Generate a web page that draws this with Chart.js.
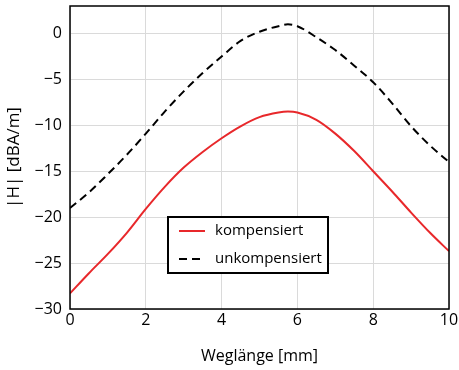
<!DOCTYPE html>
<html>
<head>
<meta charset="utf-8">
<script src="https://cdn.jsdelivr.net/npm/chart.js@4/dist/chart.umd.min.js"></script>
<style>
  html, body { margin: 0; padding: 0; background: #fff; }
  #wrap { width: 459px; height: 370px; position: relative; }
</style>
</head>
<body>
<div id="wrap"><canvas id="c" width="459" height="370"></canvas></div>
<script>
const xValues = [0, 0.5, 1, 1.5, 2, 2.5, 3, 3.5, 4, 4.5, 5, 5.5, 5.75, 6, 6.5, 7, 7.5, 8, 8.5, 9, 9.5, 10];
const kompensiert = [-28.3, -26.1, -24.0, -21.7, -19.1, -16.7, -14.6, -12.9, -11.4, -10.1, -9.1, -8.6, -8.5, -8.6, -9.4, -10.9, -12.8, -15.0, -17.2, -19.5, -21.7, -23.7];
const unkompensiert = [-19.0, -17.3, -15.3, -13.2, -10.9, -8.5, -6.3, -4.3, -2.5, -0.8, 0.2, 0.8, 1.0, 0.8, -0.4, -1.8, -3.5, -5.3, -7.6, -10.1, -12.2, -14.0];
const xTicks = [0, 2, 4, 6, 8, 10];
const yTicks = [-30, -25, -20, -15, -10, -5, 0];
const seriesLabels = ['kompensiert', 'unkompensiert'];
const xTitle = 'Weglänge [mm]';
const yTitle = '|H| [dBA/m]';

const FONT = "'Open Sans', 'Liberation Sans', sans-serif";

function pts(ys) { return xValues.map((x, i) => ({ x: x, y: ys[i] })); }

const framePlugin = {
  id: 'frame',
  afterDraw(chart) {
    const { ctx, chartArea: a } = chart;
    ctx.save();
    ctx.strokeStyle = '#000';
    ctx.lineWidth = 1.5;
    ctx.strokeRect(a.left, a.top, a.right - a.left, a.bottom - a.top);
    ctx.restore();
  }
};

const legendPlugin = {
  id: 'boxLegend',
  afterDraw(chart) {
    const { ctx } = chart;
    const x0 = 168, y0 = 217, w = 160, h = 56;
    ctx.save();
    ctx.fillStyle = '#fff';
    ctx.fillRect(x0, y0, w, h);
    ctx.strokeStyle = '#000';
    ctx.lineWidth = 2;
    ctx.strokeRect(x0, y0, w, h);
    chart.data.datasets.forEach((ds, i) => {
      const yy = y0 + 14 + i * 28;
      ctx.strokeStyle = ds.borderColor;
      ctx.lineWidth = ds.borderWidth;
      ctx.setLineDash(ds.borderDash || []);
      ctx.beginPath();
      ctx.moveTo(x0 + 11, yy);
      ctx.lineTo(x0 + 37, yy);
      ctx.stroke();
      ctx.setLineDash([]);
      ctx.fillStyle = '#000';
      ctx.font = '15px ' + FONT;
      ctx.textBaseline = 'middle';
      ctx.textAlign = 'left';
      ctx.fillText(ds.label, x0 + 47, yy);
    });
    ctx.restore();
  }
};

const minus = v => String(v).replace('-', '\u2212');

new Chart(document.getElementById('c'), {
  type: 'line',
  data: {
    datasets: [
      { label: seriesLabels[0], data: pts(kompensiert), borderColor: '#e8282b', borderWidth: 2, pointRadius: 0, cubicInterpolationMode: 'monotone', fill: false },
      { label: seriesLabels[1], data: pts(unkompensiert), borderColor: '#000000', borderWidth: 2, borderDash: [8, 5], pointRadius: 0, cubicInterpolationMode: 'monotone', fill: false }
    ]
  },
  options: {
    responsive: false,
    animation: false,
    layout: { padding: { top: 6, right: 10, left: 0, bottom: 0 } },
    plugins: { legend: { display: false }, tooltip: { enabled: false } },
    scales: {
      x: {
        type: 'linear', min: 0, max: 10,
        afterBuildTicks: s => { s.ticks = xTicks.map(v => ({ value: v })); },
        afterFit: s => { s.height = 61; s.paddingLeft = 0; s.paddingRight = 0; },
        grid: { color: '#dadada', lineWidth: 1, drawTicks: false },
        border: { display: false },
        ticks: { color: '#000', font: { family: FONT, size: 16 }, padding: 2, maxRotation: 0, callback: v => minus(v) },
        title: { display: true, text: xTitle, color: '#000', font: { family: FONT, size: 16 }, padding: { top: 4, bottom: 4 } }
      },
      y: {
        type: 'linear', min: -30, max: 3,
        afterBuildTicks: s => { s.ticks = yTicks.map(v => ({ value: v })); },
        afterFit: s => { s.width = 70; s.paddingTop = 0; s.paddingBottom = 0; },
        grid: { color: '#dadada', lineWidth: 1, drawTicks: false },
        border: { display: false },
        ticks: { color: '#000', font: { family: FONT, size: 16 }, padding: 8, callback: v => minus(v) },
        title: { display: true, text: yTitle, color: '#000', font: { family: FONT, size: 17 }, padding: { top: 4, bottom: 4 } }
      }
    }
  },
  plugins: [framePlugin, legendPlugin]
});
</script>
</body>
</html>
